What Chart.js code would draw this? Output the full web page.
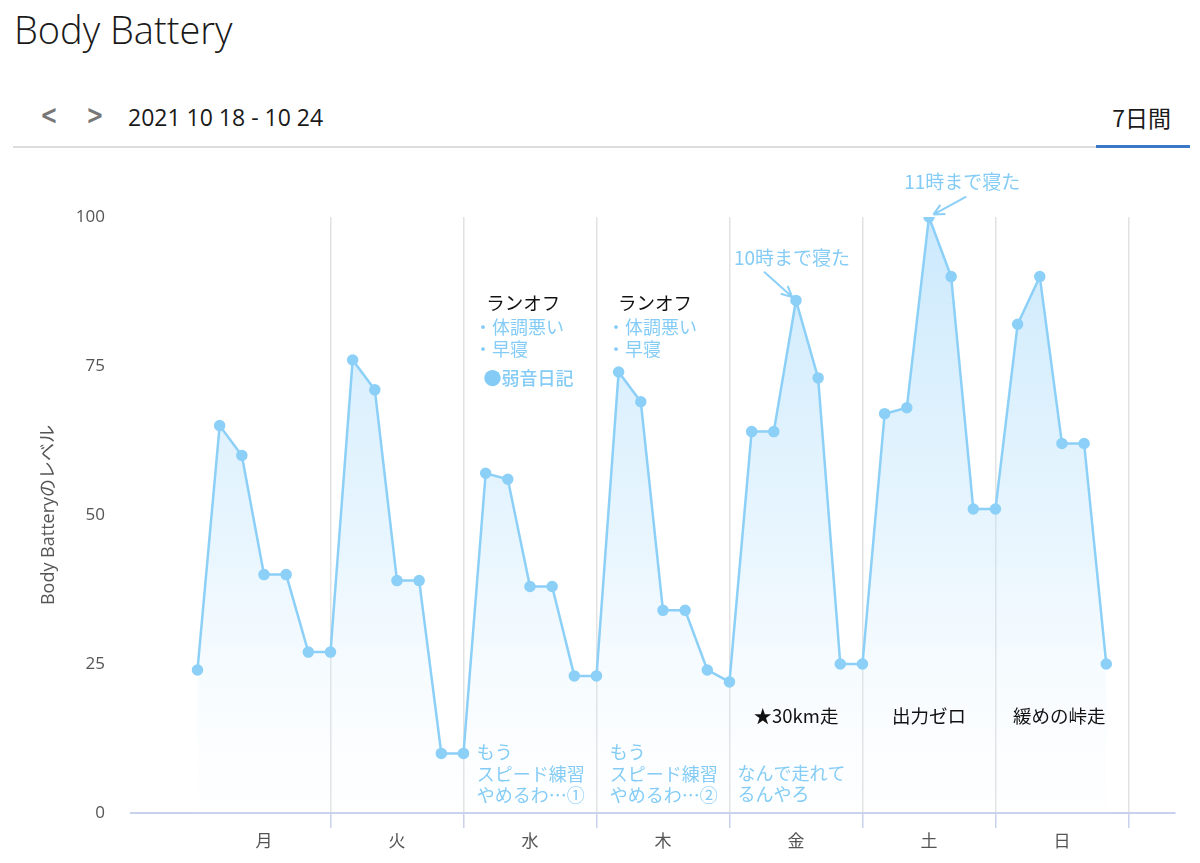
<!DOCTYPE html>
<html lang="ja">
<head>
<meta charset="UTF-8">
<title>Body Battery</title>
<script src="https://cdn.jsdelivr.net/npm/chart.js"></script>
<style>
    body {
        margin: 0;
        background: #ffffff;
        font-family: 'Open Sans', 'Noto Sans CJK JP', sans-serif;
        width: 1200px;
        height: 863px;
        position: relative;
        overflow: hidden;
    }
    h1 {
        position: absolute;
        left: 14px;
        top: 3px;
        margin: 0;
        font-weight: 300;
        font-size: 38px;
        color: #1a1a1a;
    }
    .nav {
        position: absolute;
        top: 100px;
        left: 0;
        width: 1200px;
        height: 36px;
    }
    .arrow {
        position: absolute;
        top: 0;
        font-size: 26px;
        font-weight: 700;
        color: #777;
        font-family: 'DejaVu Sans', sans-serif;
        transform: scaleX(0.8);
    }
    .range {
        position: absolute;
        left: 128px;
        top: 1px;
        font-size: 23px;
        color: #1a1a1a;
    }
    .period {
        position: absolute;
        right: 29px;
        top: 0px;
        font-size: 23px;
        color: #1a1a1a;
        font-family: 'Noto Sans CJK JP', sans-serif;
    }
    .rule {
        position: absolute;
        left: 13px;
        top: 146px;
        width: 1177px;
        height: 2px;
        background: #dcdcdc;
    }
    .tab-line {
        position: absolute;
        left: 1096px;
        top: 145px;
        width: 94px;
        height: 3px;
        background: #3b78c8;
    }
    .chart-box {
        position: absolute;
        left: 0;
        top: 160px;
        width: 1200px;
        height: 703px;
    }
</style>
</head>
<body>

<h1>Body Battery</h1>
<div class="nav">
    <span class="arrow" style="left:38px">&lt;</span>
    <span class="arrow" style="left:84px">&gt;</span>
    <span class="range">2021 10 18 - 10 24</span>
    <span class="period">7日間</span>
</div>
<div class="rule"></div>
<div class="tab-line"></div>

<div class="chart-box">
    <canvas id="bbChart"></canvas>
</div>

<script>
// 曜日ラベル
const dayLabels = ['月', '火', '水', '木', '金', '土', '日'];
const pointsPerDay = 6;

// Body Battery の値 (1日6点, 4時間ごと)
const levelMon = [24, 65, 60, 40, 40, 27];
const levelTue = [27, 76, 71, 39, 39, 10];
const levelWed = [10, 57, 56, 38, 38, 23];
const levelThu = [23, 74, 69, 34, 34, 24];
const levelFri = [22, 64, 64, 86, 73, 25];
const levelSat = [25, 67, 68, 100, 90, 51];
const levelSun = [51, 82, 90, 62, 62, 25];

const yTicks = [0, 25, 50, 75, 100];

// メモ (x = 日, y = レベル)
const notesBlack = [
    { text: 'ランオフ', x: 2.45, y: 85.6 },
    { text: 'ランオフ', x: 3.44, y: 85.6 },
    { text: '★30km走', x: 4.5, y: 16.3 },
    { text: '出力ゼロ', x: 5.5, y: 16.3 },
    { text: '緩めの峠走', x: 6.48, y: 16.3 }
];
const notesBlueLeft = [
    { text: '・体調悪い', x: 2.08, y: 81.5 },
    { text: '・早寝', x: 2.08, y: 77.9 },
    { text: '・体調悪い', x: 3.08, y: 81.5 },
    { text: '・早寝', x: 3.08, y: 77.9 },
    { text: 'もう', x: 2.1, y: 10.2 },
    { text: 'スピード練習', x: 2.1, y: 6.6 },
    { text: 'やめるわ…①', x: 2.1, y: 3.0 },
    { text: 'もう', x: 3.1, y: 10.2 },
    { text: 'スピード練習', x: 3.1, y: 6.6 },
    { text: 'やめるわ…②', x: 3.1, y: 3.0 },
    { text: 'なんで走れて', x: 4.06, y: 6.7 },
    { text: 'るんやろ', x: 4.06, y: 3.2 }
];
const notesBlueBold = [
    { text: '●弱音日記', x: 2.15, y: 73.0 }
];
const notesBlueCenter = [
    { text: '10時まで寝た', x: 4.47, y: 93.1 },
    { text: '11時まで寝た', x: 5.75, y: 105.9 }
];
// 矢印: 始点 (x, y) → データ点 index
const noteArrows = [
    { x: 4.26, y: 90.8, target: 27 },
    { x: 5.78, y: 103.4, target: 33 }
];

const levels = [].concat(levelMon, levelTue, levelWed, levelThu, levelFri, levelSat, levelSun);
const points = levels.map((v, i) => ({ x: i / pointsPerDay, y: v }));

const lineColor = '#8cd0f8';
const noteBlue = '#84ccf6';

const xTickValues = [];
for (let d = 0; d < dayLabels.length; d++) {
    xTickValues.push(d + 0.5, d + 1);
}

const notesPlugin = {
    id: 'notes',
    afterDatasetsDraw(chart) {
        const ctx = chart.ctx;
        const xs = chart.scales.x;
        const ys = chart.scales.y;
        ctx.save();
        ctx.textBaseline = 'middle';

        ctx.font = '18.5px "Noto Sans CJK JP"';
        ctx.fillStyle = '#111';
        ctx.textAlign = 'center';
        notesBlack.forEach(n => ctx.fillText(n.text, xs.getPixelForValue(n.x), ys.getPixelForValue(n.y)));

        ctx.font = '18px "Noto Sans CJK JP"';
        ctx.fillStyle = noteBlue;
        ctx.textAlign = 'left';
        notesBlueLeft.forEach(n => ctx.fillText(n.text, xs.getPixelForValue(n.x), ys.getPixelForValue(n.y)));

        ctx.font = '500 18px "Noto Sans CJK JP"';
        notesBlueBold.forEach(n => ctx.fillText(n.text, xs.getPixelForValue(n.x), ys.getPixelForValue(n.y)));

        ctx.font = '19px "Noto Sans CJK JP"';
        ctx.textAlign = 'center';
        notesBlueCenter.forEach(n => ctx.fillText(n.text, xs.getPixelForValue(n.x), ys.getPixelForValue(n.y)));

        // 矢印
        ctx.strokeStyle = lineColor;
        ctx.lineWidth = 2;
        noteArrows.forEach(a => {
            const x0 = xs.getPixelForValue(a.x);
            const y0 = ys.getPixelForValue(a.y);
            const p = points[a.target];
            let x1 = xs.getPixelForValue(p.x);
            let y1 = ys.getPixelForValue(p.y);
            const ang = Math.atan2(y1 - y0, x1 - x0);
            x1 -= Math.cos(ang) * 5;
            y1 -= Math.sin(ang) * 5;
            ctx.beginPath();
            ctx.moveTo(x0, y0);
            ctx.lineTo(x1, y1);
            ctx.moveTo(x1, y1);
            ctx.lineTo(x1 - Math.cos(ang - 0.45) * 12, y1 - Math.sin(ang - 0.45) * 12);
            ctx.moveTo(x1, y1);
            ctx.lineTo(x1 - Math.cos(ang + 0.45) * 12, y1 - Math.sin(ang + 0.45) * 12);
            ctx.stroke();
        });
        ctx.restore();
    }
};

const ctx = document.getElementById('bbChart').getContext('2d');

window.myChart = new Chart(ctx, {
    type: 'line',
    data: {
        datasets: [{
            label: 'Body Battery',
            data: points,
            borderColor: lineColor,
            borderWidth: 2.5,
            pointBackgroundColor: lineColor,
            pointBorderColor: lineColor,
            pointRadius: 4.5,
            tension: 0,
            fill: 'origin',
            backgroundColor: function (context) {
                const area = context.chart.chartArea;
                if (!area) return 'rgba(140,208,248,0.3)';
                const g = context.chart.ctx.createLinearGradient(0, area.top, 0, area.bottom);
                g.addColorStop(0, 'rgba(160,215,250,0.55)');
                g.addColorStop(0.55, 'rgba(190,228,252,0.35)');
                g.addColorStop(1, 'rgba(235,246,255,0.05)');
                return g;
            }
        }]
    },
    options: {
        responsive: true,
        maintainAspectRatio: false,
        animation: false,
        layout: {
            padding: { top: 57, right: 25, left: 0, bottom: 0 }
        },
        plugins: {
            legend: { display: false },
            tooltip: { enabled: false }
        },
        scales: {
            x: {
                type: 'linear',
                min: -0.5,
                max: 7.35,
                afterBuildTicks: scale => {
                    scale.ticks = xTickValues.map(v => ({ value: v }));
                },
                afterFit: scale => { scale.height = 50; },
                ticks: {
                    autoSkip: false,
                    maxRotation: 0,
                    padding: 2,
                    color: '#555',
                    font: { family: '"Noto Sans CJK JP"', size: 17 },
                    callback: v => Number.isInteger(v) ? '' : dayLabels[Math.floor(v)]
                },
                grid: {
                    color: c => (c.tick && Number.isInteger(c.tick.value)) ? '#e2e2e2' : 'rgba(0,0,0,0)',
                    tickColor: c => (c.tick && Number.isInteger(c.tick.value)) ? '#c9d1ec' : 'rgba(0,0,0,0)',
                    tickLength: 15,
                    lineWidth: 1.5
                },
                border: { color: '#c9d1ec', width: 2 }
            },
            y: {
                min: 0,
                max: 100,
                afterBuildTicks: scale => {
                    scale.ticks = yTicks.map(v => ({ value: v }));
                },
                afterFit: scale => { scale.width = 131; },
                ticks: {
                    padding: 26,
                    color: '#555',
                    font: { family: '"Open Sans"', size: 17 }
                },
                grid: { display: false, drawTicks: false },
                border: { display: false },
                title: {
                    display: true,
                    text: 'Body Batteryのレベル',
                    color: '#555',
                    font: { family: '"Open Sans", "Noto Sans CJK JP"', size: 18 },
                    padding: { top: 38, bottom: 0 }
                }
            }
        }
    },
    plugins: [notesPlugin]
});
</script>

</body>
</html>
